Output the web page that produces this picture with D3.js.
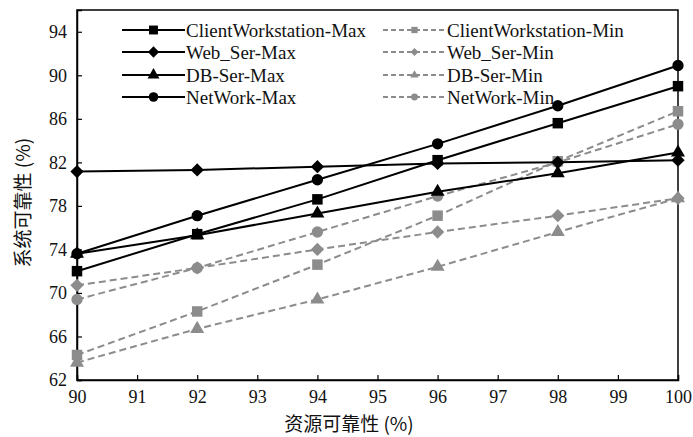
<!DOCTYPE html>
<html>
<head>
<meta charset="utf-8">
<script src="https://cdn.jsdelivr.net/npm/d3@7"></script>
<style>
  body { margin: 0; background: #fff; }
</style>
</head>
<body>
<div id="chart"></div>
<script>
// resource reliability (x) values
const xValues = [90, 92, 94, 96, 98, 100];
const xTicks = [90, 91, 92, 93, 94, 95, 96, 97, 98, 99, 100];
const yTicks = [62, 66, 70, 74, 78, 82, 86, 90, 94];

// system reliability per component
const clientMax = [72.0, 75.4, 78.6, 82.2, 85.6, 89.0];
const webMax = [81.15, 81.3, 81.6, 81.9, 82.0, 82.2];
const dbMax = [73.6, 75.3, 77.3, 79.3, 81.0, 82.9];
const netMax = [73.6, 77.1, 80.4, 83.7, 87.2, 90.9];
const clientMin = [64.3, 68.3, 72.6, 77.1, 82.1, 86.7];
const webMin = [70.7, 72.3, 74.0, 75.6, 77.1, 78.7];
const dbMin = [63.6, 66.7, 69.4, 72.4, 75.6, 78.7];
const netMin = [69.4, 72.3, 75.6, 78.9, 82.0, 85.5];

const seriesNames = ["ClientWorkstation-Max", "Web_Ser-Max", "DB-Ser-Max", "NetWork-Max",
                     "ClientWorkstation-Min", "Web_Ser-Min", "DB-Ser-Min", "NetWork-Min"];
const seriesValues = [clientMax, webMax, dbMax, netMax, clientMin, webMin, dbMin, netMin];
const shapes = ["square", "diamond", "triangle", "circle", "square", "diamond", "triangle", "circle"];

const width = 693, height = 437;
const margin = { left: 77, right: 15, top: 10, bottom: 57 };
const GRAY = "#8c8c8c";
const SERIF = "'Liberation Serif', 'Times New Roman', 'DejaVu Serif', serif";
const CJK = "'Noto Sans CJK SC', 'Noto Sans CJK JP', sans-serif";

const svg = d3.select("#chart").append("svg")
  .attr("width", width)
  .attr("height", height);

const x = d3.scaleLinear().domain([90, 100]).range([margin.left, width - margin.right]);
const y = d3.scaleLinear().domain([62, 96]).range([height - margin.bottom, margin.top]);

// frame
svg.append("rect")
  .attr("x", x(90)).attr("y", y(96))
  .attr("width", x(100) - x(90)).attr("height", y(62) - y(96))
  .attr("fill", "none").attr("stroke", "#000").attr("stroke-width", 1.5);

// axes with inward ticks
const xAxis = svg.append("g")
  .attr("transform", `translate(0,${y(62)})`)
  .call(d3.axisBottom(x).tickValues(xTicks).tickSize(-5).tickPadding(10).tickFormat(d3.format("d")));
const yAxis = svg.append("g")
  .attr("transform", `translate(${x(90)},0)`)
  .call(d3.axisLeft(y).tickValues(yTicks).tickSize(-5).tickPadding(10).tickFormat(d3.format("d")));

[xAxis, yAxis].forEach(g => {
  g.attr("font-family", null);
  g.select(".domain").attr("stroke-width", 1.5);
  g.selectAll(".tick line").attr("stroke-width", 1.2);
  g.selectAll(".tick text")
    .attr("fill", "#111")
    .style("font-family", SERIF)
    .style("font-size", "18px");
});

// axis titles
svg.append("text")
  .attr("x", 349).attr("y", 431)
  .attr("text-anchor", "middle")
  .attr("fill", "#111")
  .style("font-family", CJK)
  .style("font-size", "19px")
  .text("资源可靠性 (%)");

svg.append("text")
  .attr("transform", `translate(23,${y(78.3)}) rotate(-90)`)
  .attr("text-anchor", "middle")
  .attr("dy", "0.35em")
  .attr("fill", "#111")
  .style("font-family", CJK)
  .style("font-size", "19px")
  .text("系统可靠性 (%)");

function symbolPath(shape, scale) {
  const s = scale || 1;
  if (shape === "square") return d3.symbol(d3.symbolSquare, 110 * s * s)();
  if (shape === "diamond") return d3.symbol(d3.symbolSquare, 88 * s * s)();
  if (shape === "triangle") return d3.symbol(d3.symbolTriangle, 85 * s * s)();
  return d3.symbol(d3.symbolCircle, 100 * s * s)();
}

const line = d3.line()
  .x((d, i) => x(xValues[i]))
  .y(d => y(d));

// draw min series first (gray dashed), then max series (black solid) on top
const order = [4, 5, 6, 7, 0, 1, 2, 3];
order.forEach(k => {
  const isMin = k >= 4;
  const color = isMin ? GRAY : "#000";
  const g = svg.append("g");
  g.append("path")
    .datum(seriesValues[k])
    .attr("d", line)
    .attr("fill", "none")
    .attr("stroke", color)
    .attr("stroke-width", 2)
    .attr("stroke-dasharray", isMin ? "7,4" : null);
  g.selectAll("path.mark")
    .data(seriesValues[k])
    .join("path")
    .attr("class", "mark")
    .attr("d", symbolPath(shapes[k]))
    .attr("transform", (d, i) => `translate(${x(xValues[i])},${y(d)})${shapes[k] === "diamond" ? " rotate(45)" : ""}`)
    .attr("fill", color);
});

// legend
const legend = svg.append("g");
const rowY = [30, 52, 75, 97];
seriesNames.forEach((name, k) => {
  const col = k < 4 ? 0 : 1;
  const row = k % 4;
  const isMin = col === 1;
  const color = isMin ? GRAY : "#000";
  const x0 = col === 0 ? 122 : 383;
  const x1 = x0 + 63;
  const yy = rowY[row];
  legend.append("line")
    .attr("x1", x0).attr("x2", x1).attr("y1", yy).attr("y2", yy)
    .attr("stroke", color).attr("stroke-width", 2)
    .attr("stroke-dasharray", isMin ? "5,3" : null);
  legend.append("path")
    .attr("d", symbolPath(shapes[k], isMin ? 0.6 : 0.85))
    .attr("transform", `translate(${(x0 + x1) / 2},${yy})${shapes[k] === "diamond" ? " rotate(45)" : ""}`)
    .attr("fill", color);
  legend.append("text")
    .attr("x", x1 + 1).attr("y", yy)
    .attr("dy", "0.35em")
    .attr("fill", "#111")
    .style("font-family", SERIF)
    .style("font-size", "19px")
    .text(name);
});
</script>
</body>
</html>
